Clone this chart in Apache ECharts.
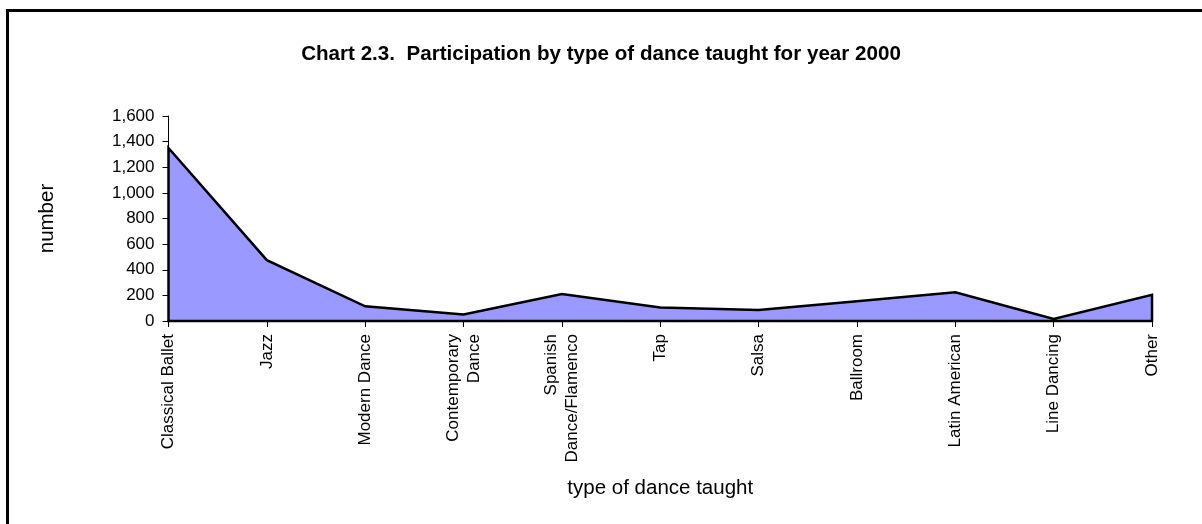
<!DOCTYPE html>
<html>
<head>
<meta charset="utf-8">
<script src="https://cdn.jsdelivr.net/npm/echarts@6/dist/echarts.min.js"></script>
<style>
  html, body { margin: 0; padding: 0; background: #fff; }
  #main { width: 1202px; height: 524px; }
</style>
</head>
<body>
<div id="main"></div>
<script>
(function () {
    // categories and values
    var danceTypes = [
        'Classical Ballet', 'Jazz', 'Modern Dance', 'Contemporary\nDance',
        'Spanish\nDance/Flamenco', 'Tap', 'Salsa', 'Ballroom',
        'Latin American', 'Line Dancing', 'Other'
    ];
    var participants = [1350, 475, 115, 50, 210, 105, 85, 155, 225, 15, 205];
    var yTicks = { min: 0, max: 1600, step: 200 };

    var font = '"Liberation Sans", Arial, sans-serif';
    var myChart = echarts.init(document.getElementById('main'));

    var option = {
        backgroundColor: '#fff',
        animation: false,
        title: {
            text: 'Chart 2.3.  Participation by type of dance taught for year 2000',
            left: 'center',
            top: 39,
            textStyle: {
                fontFamily: font,
                fontSize: 20.6,
                fontWeight: 'bold',
                color: '#000',
                lineHeight: 21
            }
        },
        graphic: [{
            // chart frame (only top and left edges fall inside the picture)
            type: 'rect',
            shape: { x: 7.5, y: 10.5, width: 1400, height: 700 },
            style: { fill: null, stroke: '#000', lineWidth: 3 },
            silent: true
        }],
        grid: {
            left: 168.5,
            right: 50,
            top: 116,
            bottom: 203,
            containLabel: false,
            outerBoundsMode: 'none'
        },
        xAxis: {
            type: 'category',
            data: danceTypes,
            boundaryGap: false,
            name: 'type of dance taught',
            nameLocation: 'middle',
            nameGap: 157,
            nameTextStyle: { fontFamily: font, fontSize: 20.5, color: '#000' },
            axisLine: { show: true, lineStyle: { color: '#000', width: 2 } },
            axisTick: { show: true, interval: 0, length: 6, lineStyle: { color: '#000', width: 1 } },
            axisLabel: {
                interval: 0,
                rotate: 90,
                margin: 13,
                fontFamily: font,
                fontSize: 17,
                lineHeight: 21,
                color: '#000'
            },
            splitLine: { show: false }
        },
        yAxis: {
            type: 'value',
            min: yTicks.min,
            max: yTicks.max,
            interval: yTicks.step,
            name: 'number',
            nameLocation: 'middle',
            nameRotate: 90,
            nameGap: 111,
            nameTextStyle: { fontFamily: font, fontSize: 20.5, color: '#000' },
            axisLine: { show: true, lineStyle: { color: '#000', width: 1 } },
            axisTick: { show: true, length: 6, lineStyle: { color: '#000', width: 1 } },
            axisLabel: {
                margin: 14,
                fontFamily: font,
                fontSize: 17,
                color: '#000',
                formatter: function (v) { return v.toLocaleString('en-US'); }
            },
            splitLine: { show: false }
        },
        series: [{
            // whole area drawn as one outlined polygon, like the spreadsheet does
            type: 'custom',
            renderItem: function (params, api) {
                if (params.dataIndex !== 0) return;
                var pts = participants.map(function (v, i) { return api.coord([i, v]); });
                var last = participants.length - 1;
                pts.unshift(api.coord([0, 0]));
                pts.push(api.coord([last, 0]));
                return {
                    type: 'polygon',
                    shape: { points: pts },
                    style: {
                        fill: '#9999ff',
                        stroke: '#000',
                        lineWidth: 2.5,
                        lineJoin: 'miter'
                    }
                };
            },
            data: participants.map(function (v, i) { return [i, v]; }),
            clip: false,
            silent: true
        }]
    };
    myChart.setOption(option);
}());
</script>
</body>
</html>
